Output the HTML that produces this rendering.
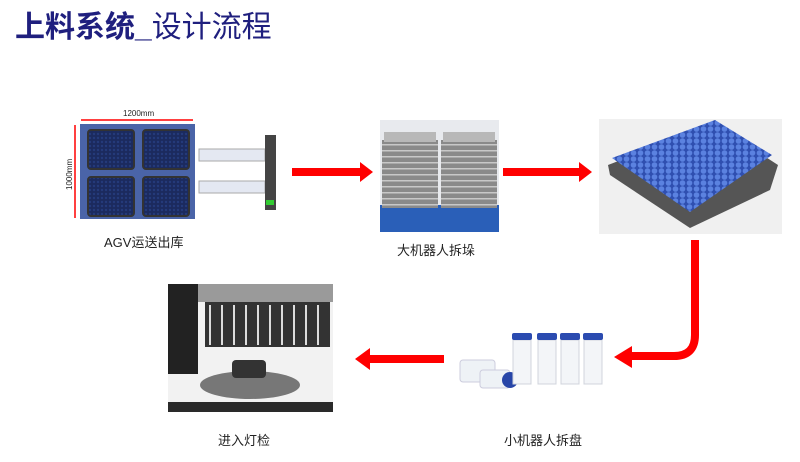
<!DOCTYPE html>
<html><head><meta charset="utf-8"><style>
body{margin:0;width:800px;height:462px;background:#fff;position:relative;overflow:hidden;font-family:"Liberation Sans","Noto Sans CJK SC",sans-serif}
.t{position:absolute;color:#222;font-size:13px;white-space:nowrap}
</style></head><body>
<div style="position:absolute;left:15px;top:2px;font-size:30px;color:#1f1f7e;white-space:nowrap;font-family:'Liberation Sans','Noto Sans CJK SC',sans-serif"><b>上料系统_</b>设计流程</div>
<svg width="800" height="462" style="position:absolute;left:0;top:0">
<defs>
<pattern id="dots" width="4" height="4" patternUnits="userSpaceOnUse"><rect width="4" height="4" fill="#1b2a5e"/><circle cx="2" cy="2" r="1.2" fill="#243a7a"/></pattern>
<pattern id="caps" width="7" height="6" patternUnits="userSpaceOnUse"><rect width="7" height="6" fill="#2f4fb0"/><circle cx="3.5" cy="3" r="2.8" fill="#5b82e0"/></pattern>
<pattern id="tray" width="6" height="6" patternUnits="userSpaceOnUse"><rect width="6" height="6" fill="#8a8a8a"/><rect width="6" height="1.5" fill="#c8c8c8"/></pattern>
</defs>
<!-- AGV -->
<line x1="81" y1="120" x2="193" y2="120" stroke="#f00" stroke-width="1.5"/>
<line x1="75" y1="125" x2="75" y2="218" stroke="#f00" stroke-width="1.5"/>
<text x="123" y="116" font-size="8" fill="#222" font-family="Liberation Sans">1200mm</text>
<text x="72" y="190" font-size="8" fill="#222" font-family="Liberation Sans" transform="rotate(-90 72 190)">1000mm</text>
<rect x="80" y="124" width="115" height="95" fill="#4a64a8"/>
<rect x="88" y="130" width="46" height="39" rx="3" fill="url(#dots)" stroke="#333" stroke-width="2"/>
<rect x="143" y="130" width="46" height="39" rx="3" fill="url(#dots)" stroke="#333" stroke-width="2"/>
<rect x="88" y="177" width="46" height="39" rx="3" fill="url(#dots)" stroke="#333" stroke-width="2"/>
<rect x="143" y="177" width="46" height="39" rx="3" fill="url(#dots)" stroke="#333" stroke-width="2"/>
<rect x="199" y="149" width="66" height="12" fill="#e4e8f2" stroke="#aaa"/>
<rect x="199" y="181" width="66" height="12" fill="#e4e8f2" stroke="#aaa"/>
<rect x="265" y="135" width="11" height="75" fill="#444"/>
<rect x="266" y="200" width="8" height="5" fill="#3c3"/>
<!-- arrows -->
<polygon points="292,168 360,168 360,162 373,172 360,182 360,176 292,176" fill="#f00"/>
<polygon points="503,168 579,168 579,162 592,172 579,182 579,176 503,176" fill="#f00"/>
<path d="M695,240 L695,335 Q695,356 674,356 L630,356" fill="none" stroke="#f00" stroke-width="8"/>
<polygon points="614,357 632,346 632,368" fill="#f00"/>
<polygon points="444,355 370,355 370,348 355,359 370,370 370,363 444,363" fill="#f00"/>
<!-- trays stack -->
<rect x="380" y="120" width="119" height="112" fill="#e8eaee"/>
<rect x="380" y="205" width="119" height="27" fill="#2a5fb8"/>
<rect x="382" y="140" width="56" height="68" fill="url(#tray)"/>
<rect x="441" y="140" width="56" height="68" fill="url(#tray)"/>
<rect x="384" y="132" width="52" height="10" fill="#b8b8b8"/>
<rect x="443" y="132" width="52" height="10" fill="#b8b8b8"/>
<!-- blue tray -->
<rect x="599" y="119" width="183" height="115" fill="#f0f0f0"/>
<polygon points="608,165 715,124 778,165 770,190 690,228 610,175" fill="#555"/>
<polygon points="612,158 715,120 772,155 690,212" fill="url(#caps)"/>
<!-- vials -->
<g>
<rect x="460" y="360" width="35" height="22" rx="3" fill="#eef2f6" stroke="#ccd"/>
<rect x="480" y="370" width="30" height="18" rx="3" fill="#eef2f6" stroke="#ccd"/>
<circle cx="510" cy="380" r="8" fill="#2846a8"/>
<g fill="#f3f5f8" stroke="#d0d4dc">
<rect x="513" y="340" width="18" height="44"/><rect x="538" y="340" width="18" height="44"/><rect x="561" y="340" width="18" height="44"/><rect x="584" y="340" width="18" height="44"/></g>
<g fill="#2b4bb0"><rect x="512" y="333" width="20" height="7" rx="2"/><rect x="537" y="333" width="20" height="7" rx="2"/><rect x="560" y="333" width="20" height="7" rx="2"/><rect x="583" y="333" width="20" height="7" rx="2"/></g>
</g>
<!-- machine -->
<rect x="168" y="284" width="165" height="128" fill="#f2f2f2"/>
<rect x="168" y="284" width="30" height="90" fill="#222"/>
<rect x="198" y="284" width="135" height="18" fill="#9a9a9a"/>
<g fill="#333"><rect x="205" y="302" width="125" height="45"/></g>
<g stroke="#ddd" stroke-width="2"><line x1="210" y1="305" x2="210" y2="345"/><line x1="222" y1="305" x2="222" y2="345"/><line x1="234" y1="305" x2="234" y2="345"/><line x1="246" y1="305" x2="246" y2="345"/><line x1="258" y1="305" x2="258" y2="345"/><line x1="270" y1="305" x2="270" y2="345"/><line x1="282" y1="305" x2="282" y2="345"/><line x1="294" y1="305" x2="294" y2="345"/><line x1="306" y1="305" x2="306" y2="345"/><line x1="318" y1="305" x2="318" y2="345"/></g>
<ellipse cx="250" cy="385" rx="50" ry="14" fill="#777"/>
<rect x="232" y="360" width="34" height="18" rx="4" fill="#333"/>
<rect x="168" y="402" width="165" height="10" fill="#2a2a2a"/>
</svg>
<div class="t" style="left:104px;top:232px">AGV运送出库</div>
<div class="t" style="left:397px;top:240px">大机器人拆垛</div>
<div class="t" style="left:218px;top:430px">进入灯检</div>
<div class="t" style="left:504px;top:430px">小机器人拆盘</div>
</body></html>
